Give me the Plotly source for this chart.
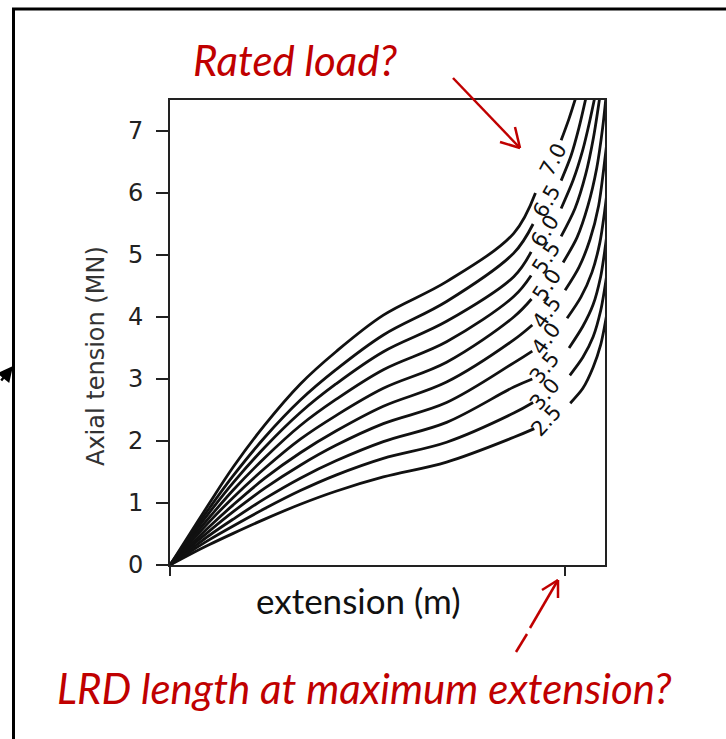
import plotly.graph_objects as go

# ---------------- data ----------------
levels = [2.5, 3.0, 3.5, 4.0, 4.5, 5.0, 5.5, 6.0, 6.5, 7.0]
level_labels = ["2.5", "3.0", "3.5", "4.0", "4.5", "5.0", "5.5", "6.0", "6.5", "7.0"]

# extension points shared by the part of each curve left of its label
x_pre = [0, 0.05, 0.1, 0.16, 0.24, 0.33, 0.42, 0.54, 0.7, 0.87]

y_pre_25 = [0, 0.17, 0.33, 0.51, 0.74, 0.98, 1.19, 1.42, 1.66, 2.06]
y_pre_30 = [0, 0.21, 0.41, 0.63, 0.91, 1.20, 1.45, 1.72, 1.98, 2.45]
y_pre_35 = [0, 0.24, 0.48, 0.74, 1.07, 1.40, 1.68, 1.99, 2.30, 2.87]
y_pre_40 = [0, 0.28, 0.55, 0.86, 1.24, 1.61, 1.93, 2.28, 2.62, 3.26]
y_pre_45 = [0, 0.31, 0.62, 0.97, 1.40, 1.81, 2.16, 2.56, 2.95, 3.63]
y_pre_50 = [0, 0.35, 0.70, 1.09, 1.56, 2.03, 2.41, 2.85, 3.27, 4.00]
y_pre_55 = [0, 0.39, 0.77, 1.21, 1.73, 2.25, 2.67, 3.15, 3.60, 4.33]
y_pre_60 = [0, 0.43, 0.85, 1.33, 1.90, 2.46, 2.92, 3.44, 3.93, 4.65]
y_pre_65 = [0, 0.46, 0.92, 1.44, 2.06, 2.66, 3.15, 3.71, 4.25, 5.03]
y_pre_70 = [0, 0.50, 1.00, 1.58, 2.26, 2.92, 3.44, 4.03, 4.57, 5.35]

# last visible point before each inline label
gap_start_x = [0.922, 0.919, 0.917, 0.917, 0.917, 0.915, 0.914, 0.914, 0.919, 0.925]
gap_start_y = [2.20, 2.62, 3.00, 3.45, 3.87, 4.29, 4.67, 5.05, 5.50, 6.00]

# inline label centres
label_x = [0.952, 0.949, 0.947, 0.952, 0.954, 0.954, 0.952, 0.949, 0.954, 0.970]
label_y = [2.32, 2.76, 3.18, 3.64, 4.08, 4.52, 4.95, 5.39, 5.87, 6.53]

# part of each curve right of its label
x_post_25 = [1.013, 1.045, 1.071, 1.09, 1.10, 1.115]
y_post_25 = [2.61, 2.85, 3.19, 3.55, 3.85, 4.40]
x_post_30 = [1.012, 1.045, 1.071, 1.09, 1.10, 1.115]
y_post_30 = [3.06, 3.35, 3.68, 4.10, 4.45, 5.10]
x_post_35 = [1.010, 1.045, 1.071, 1.09, 1.10, 1.115]
y_post_35 = [3.50, 3.85, 4.20, 4.65, 5.05, 5.80]
x_post_40 = [1.005, 1.04, 1.068, 1.088, 1.10, 1.115]
y_post_40 = [3.98, 4.32, 4.72, 5.20, 5.70, 6.50]
x_post_45 = [1.000, 1.035, 1.063, 1.085, 1.098, 1.115]
y_post_45 = [4.43, 4.80, 5.25, 5.80, 6.40, 7.30]
x_post_50 = [0.995, 1.03, 1.058, 1.08, 1.095, 1.106]
y_post_50 = [4.88, 5.28, 5.80, 6.40, 7.05, 7.70]
x_post_55 = [0.990, 1.025, 1.052, 1.072, 1.089]
y_post_55 = [5.30, 5.75, 6.30, 6.90, 7.60]
x_post_60 = [0.990, 1.02, 1.045, 1.062, 1.077]
y_post_60 = [5.75, 6.20, 6.70, 7.15, 7.60]
x_post_65 = [0.990, 1.015, 1.035, 1.055]
y_post_65 = [6.20, 6.60, 7.05, 7.60]
x_post_70 = [0.990, 1.01, 1.03]
y_post_70 = [6.85, 7.20, 7.60]

y_ticks = [0, 1, 2, 3, 4, 5, 6, 7]
x_ticks = [0, 1]

y_pre_all = [y_pre_25, y_pre_30, y_pre_35, y_pre_40, y_pre_45,
             y_pre_50, y_pre_55, y_pre_60, y_pre_65, y_pre_70]
x_post_all = [x_post_25, x_post_30, x_post_35, x_post_40, x_post_45,
              x_post_50, x_post_55, x_post_60, x_post_65, x_post_70]
y_post_all = [y_post_25, y_post_30, y_post_35, y_post_40, y_post_45,
              y_post_50, y_post_55, y_post_60, y_post_65, y_post_70]

# ---------------- layout geometry ----------------
W, H = 726, 739
L, R, T, B = 170, 605, 100, 565          # plot-area pixel box
PW, PH = R - L, B - T


def px(xp):
    return (xp - L) / PW


def py(yp):
    return (B - yp) / PH


RED = "#C00000"
LINE = "#111111"

fig = go.Figure()

for i, lev in enumerate(levels):
    xs = x_pre + [gap_start_x[i]]
    ys = y_pre_all[i] + [gap_start_y[i]]
    fig.add_trace(go.Scatter(x=xs, y=ys, mode="lines",
                             line=dict(color=LINE, width=2.8, shape="spline", smoothing=1.0),
                             showlegend=False, hoverinfo="skip"))
    fig.add_trace(go.Scatter(x=x_post_all[i], y=y_post_all[i], mode="lines",
                             line=dict(color=LINE, width=2.8, shape="spline", smoothing=0.8),
                             showlegend=False, hoverinfo="skip"))

annotations = []
angles = [-48, -50, -52, -54, -55, -56, -57, -58, -60, -62]
for i, lab in enumerate(level_labels):
    annotations.append(dict(x=label_x[i], y=label_y[i], xref="x", yref="y",
                            text=lab, showarrow=False, textangle=angles[i],
                            font=dict(family="DejaVu Sans", size=21, color="#111"),
                            xanchor="center", yanchor="middle"))

# axis titles
annotations.append(dict(x=px(96), y=py(356), xref="paper", yref="paper",
                        text="Axial tension (MN)", showarrow=False, textangle=-90,
                        font=dict(family="DejaVu Sans", size=24, color="#333"),
                        xanchor="center", yanchor="middle"))
annotations.append(dict(x=px(358), y=py(600), xref="paper", yref="paper",
                        text="extension (m)", showarrow=False,
                        font=dict(family="Lato", size=35, color="#111"),
                        xanchor="center", yanchor="middle"))
# red questions
annotations.append(dict(x=px(295), y=py(60), xref="paper", yref="paper",
                        text="Rated load?", showarrow=False,
                        font=dict(family="Lato", size=42, color=RED, style="italic"),
                        xanchor="center", yanchor="middle"))
annotations.append(dict(x=px(364), y=py(688), xref="paper", yref="paper",
                        text="LRD length at maximum extension?", showarrow=False,
                        font=dict(family="Lato", size=42, color=RED, style="italic"),
                        xanchor="center", yanchor="middle"))
# black arrowhead at the left border
annotations.append(dict(x=px(13), y=py(366), xref="paper", yref="paper",
                        text="", showarrow=True, ax=-30, ay=16,
                        arrowhead=2, arrowsize=1.3, arrowwidth=2.4, arrowcolor="black"))

shapes = []


def seg(x0, y0, x1, y1, color=RED, width=2.5):
    shapes.append(dict(type="line", xref="paper", yref="paper",
                       x0=px(x0), y0=py(y0), x1=px(x1), y1=py(y1),
                       line=dict(color=color, width=width)))


# arrow to rated load
seg(453, 78, 520, 148)
seg(520, 148, 500, 142)
seg(520, 148, 515, 127)
# arrow to max extension (broken shaft)
seg(558, 580, 530, 628)
seg(527, 634, 516, 652)
seg(558, 580, 542, 590)
seg(558, 580, 558, 598)

# outer box
shapes.append(dict(type="rect", xref="paper", yref="paper",
                   x0=px(13.5), y0=py(760), x1=px(760), y1=py(9.0),
                   line=dict(color="black", width=3), fillcolor="rgba(0,0,0,0)", layer="below"))

fig.update_layout(
    width=W, height=H,
    margin=dict(l=L, r=W - R, t=T, b=H - B, pad=0),
    paper_bgcolor="white", plot_bgcolor="white",
    showlegend=False,
    annotations=annotations,
    shapes=shapes,
    xaxis=dict(range=[0, 1.101], tickvals=x_ticks, showticklabels=False,
               ticks="outside", ticklen=9, tickwidth=1.5, tickcolor="#222",
               showline=True, mirror=True, linecolor="#222", linewidth=1.6,
               showgrid=False, zeroline=False),
    yaxis=dict(range=[0, 7.5], tickvals=y_ticks,
               ticks="outside", ticklen=12, tickwidth=1.5, tickcolor="#222",
               tickfont=dict(family="DejaVu Sans", size=24, color="#222"),
               ticklabelstandoff=8,
               showline=True, mirror=True, linecolor="#222", linewidth=1.6,
               showgrid=False, zeroline=False),
)

fig.write_html("out.html")
